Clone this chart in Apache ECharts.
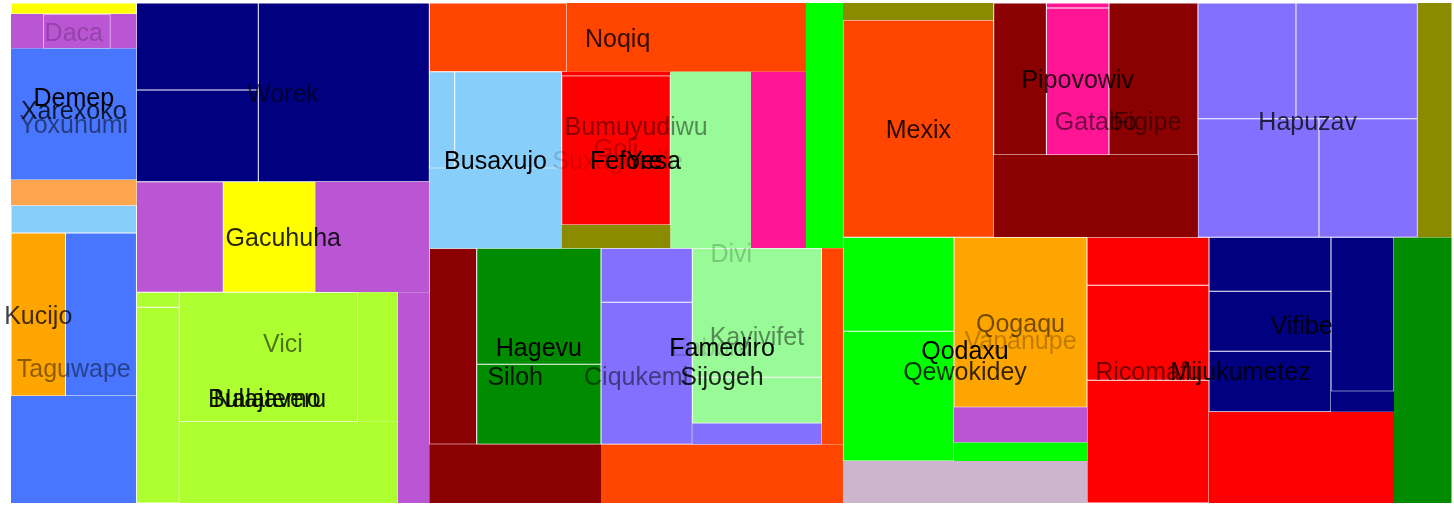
<!DOCTYPE html>
<html>
<head>
<meta charset="utf-8">
<script src="https://cdn.jsdelivr.net/npm/echarts/dist/echarts.min.js"></script>
<style>
  html, body { margin: 0; padding: 0; background: #ffffff; }
  #chart { width: 1454px; height: 507px; }
</style>
</head>
<body>
<div id="chart"></div>
<script>
// ---------------- DATA ----------------
// Hierarchy: which nodes each group contains (in drawing order)
const childIds = {
  divi: ['c1', 'x'],
  c1: ['c1y', 'a1'], a1: ['yox', 'tag'], yox: ['xar', 'ylblue'], xar: ['demep', 'xsandy'],
  demep: ['dl', 'dm', 'dr', 'dblue'], tag: ['kuc', 'tblue', 'trest'],
  x: ['c2', 'y'], c2: ['worek', 'vici'], worek: ['w1', 'w2', 'w3'],
  vici: ['gl', 'gy', 'gr', 'lg'], lg: ['bula', 'lgrest'], bula: ['nala'],
  nala: ['ntop', 'nbot', 'nin'], nin: ['nm', 'nr1'], nm: ['nbox', 'nr2'],
  y: ['bum', 'ciq', 'r'], bum: ['noqiq', 'suxa', 'bumg'], noqiq: ['ql', 'qr'],
  suxa: ['busa', 'sstrip', 'sro', 'spg', 'spink'], busa: ['b1', 'b2', 'brest'], sro: ['goli', 'solive'],
  ciq: ['siloh', 'sijo'], siloh: ['sidr', 'hag', 'sirest'], hag: ['h1', 'h2'],
  sijo: ['fam', 'sjrest'], fam: ['ea', 'frest'], ea: ['e1', 'e2', 'er'], er: ['kay', 'estrip'], kay: ['k1', 'k2'],
  r: ['fig', 'r2'], fig: ['folive', 'mexix', 'f2'], f2: ['gat', 'f3'],
  gat: ['gal', 'pipo', 'gar', 'garest'], pipo: ['ptop', 'pmain'], f3: ['hap', 'f3olive'],
  hap: ['hp1', 'hp2', 'hp3', 'hp4'],
  r2: ['qew', 'r2b'], qew: ['qod', 'qewrest'], qod: ['qd1', 'qd2', 'qdr'], qdr: ['vap', 'qdstrip'],
  vap: ['qog', 'varest'], r2b: ['miju', 'r2g'], miju: ['m1', 'm2', 'm3', 'mr'], mr: ['vif', 'mrest'],
  vif: ['v1', 'v2', 'v3', 'vr'], vr: ['vr1', 'vr2']
};

// Leaf values
const leafValues = {
  c1y: 13.8, dl: 11.1, dm: 23.1, dr: 9.0, dblue: 164.4, xsandy: 32.4, ylblue: 34.8,
  kuc: 88.8, tblue: 115.7, trest: 134.3,
  w1: 106.0, w2: 111.7, w3: 305.6, gl: 96.0, gy: 101.8, gr: 126.1,
  ntop: 6.4, nbot: 83.8, nbox: 230.9, nr2: 51.8, nr1: 177.6, lgrest: 66.6,
  ql: 94.4, qr: 164.4, b1: 24.5, b2: 103.4, brest: 105.9, sstrip: 4.3, goli: 162.1, solive: 25.3,
  spg: 142.5, spink: 97.1, bumg: 90.8,
  sidr: 92.9, h1: 144.2, h2: 99.4, sirest: 100.8, e1: 49.3, e2: 129.6, k1: 166.7, k2: 59.4,
  estrip: 27.1, frest: 42.1, sjrest: 142.1,
  folive: 25.6, mexix: 327.5, gal: 80.1, ptop: 3.1, pmain: 92.0, gar: 135.3, garest: 168.1,
  hp1: 113.4, hp2: 140.5, hp3: 143.5, hp4: 116.7, f3olive: 79.9,
  qd1: 104.3, qd2: 144.0, qog: 226.1, varest: 46.6, qdstrip: 24.9, qewrest: 102.5,
  m1: 58.6, m2: 115.9, m3: 149.7, v1: 65.9, v2: 73.2, v3: 73.7, vr1: 97.0, vr2: 12.9,
  mrest: 168.9, r2g: 152.8
};

// Node names shown as labels
const nodeLabels = {
  divi: 'Divi', yox: 'Yoxuhumi', xar: 'Xarexoko', demep: 'Demep', dm: 'Daca',
  tag: 'Taguwape', kuc: 'Kucijo', worek: 'Worek', vici: 'Vici', gy: 'Gacuhuha',
  bula: 'Bulajaveru', nala: 'Nalatemo', bum: 'Bumuyudiwu', noqiq: 'Noqiq',
  suxa: 'Suxagomile', busa: 'Busaxujo', sro: 'Fefore', goli: 'Goli', spg: 'Yesa',
  ciq: 'Ciqukemi', siloh: 'Siloh', hag: 'Hagevu', sijo: 'Sijogeh', fam: 'Famediro',
  ea: 'Eaboru', kay: 'Kayivifet', fig: 'Figipe', mexix: 'Mexix', gat: 'Gatabo',
  pipo: 'Pipovowiv', hap: 'Hapuzav', qew: 'Qewokidey', qod: 'Qodaxu', vap: 'Vapanupe',
  qog: 'Qogaqu', miju: 'Mijukumetez', m2: 'Ricomafu', vif: 'Vifibe'
};

// ---------------- STYLE ----------------
const leafColors = {
  c1y: '#FFFF00', dl: '#BA55D3', dm: '#BA55D3', dr: '#BA55D3', dblue: '#4876FF', xsandy: '#FFA54F',
  ylblue: '#87CEFA', kuc: '#FFA500', tblue: '#4876FF', trest: '#4876FF',
  w1: '#000080', w2: '#000080', w3: '#000080', gl: '#BA55D3', gy: '#FFFF00', gr: '#BA55D3',
  ntop: '#ADFF2F', nbot: '#ADFF2F', nbox: '#ADFF2F', nr2: '#ADFF2F', nr1: '#ADFF2F', lgrest: '#BA55D3',
  ql: '#FF4500', qr: '#FF4500', b1: '#87CEFA', b2: '#87CEFA', brest: '#87CEFA', sstrip: '#FF0000',
  goli: '#FF0000', solive: '#8B8B00', spg: '#98FB98', spink: '#FF1493', bumg: '#00FF00',
  sidr: '#8B0000', h1: '#008B00', h2: '#008B00', sirest: '#8B0000', e1: '#8470FF', e2: '#8470FF',
  k1: '#98FB98', k2: '#98FB98', estrip: '#8470FF', frest: '#FF4500', sjrest: '#FF4500',
  folive: '#8B8B00', mexix: '#FF4500', gal: '#8B0000', ptop: '#FF1493', pmain: '#FF1493',
  gar: '#8B0000', garest: '#8B0000', hp1: '#8470FF', hp2: '#8470FF', hp3: '#8470FF', hp4: '#8470FF',
  f3olive: '#8B8B00', qd1: '#00FF00', qd2: '#00FF00', qog: '#FFA500', varest: '#BA55D3',
  qdstrip: '#00FF00', qewrest: '#CDB5CD', m1: '#FF0000', m2: '#FF0000', m3: '#FF0000',
  v1: '#000080', v2: '#000080', v3: '#000080', vr1: '#000080', vr2: '#000080',
  mrest: '#FF0000', r2g: '#008B00'
};
const framedLeaves = ['c1y', 'dm', 'ylblue', 'kuc', 'tblue', 'w1', 'w2', 'w3', 'gl', 'gy', 'ntop', 'nbot',
  'nbox', 'ql', 'b1', 'b2', 'goli', 'sidr', 'h1', 'h2', 'e1', 'e2', 'k1', 'k2', 'mexix', 'gal', 'ptop',
  'pmain', 'gar', 'hp1', 'hp2', 'hp3', 'hp4', 'qd1', 'qd2', 'qog', 'm1', 'm2', 'm3', 'v1', 'v2', 'v3', 'vr1'];
const labelAlpha = {
  Divi: 0.2, Yoxuhumi: 0.5, Xarexoko: 0.8, Demep: 1, Daca: 0.2, Taguwape: 0.45, Kucijo: 0.75,
  Worek: 0.6, Vici: 0.55, Gacuhuha: 0.85, Bulajaveru: 0.9, Nalatemo: 0.9, Bumuyudiwu: 0.45,
  Noqiq: 0.8, Suxagomile: 0.15, Busaxujo: 1, Fefore: 1, Goli: 0.25, Yesa: 1, Ciqukemi: 0.5,
  Siloh: 0.85, Hagevu: 1, Sijogeh: 0.85, Famediro: 1, Eaboru: 0.15, Kayivifet: 0.45,
  Figipe: 0.45, Mexix: 0.85, Gatabo: 0.55, Pipovowiv: 0.85, Hapuzav: 0.75, Qewokidey: 0.8,
  Qodaxu: 1, Vapanupe: 0.25, Qogaqu: 0.55, Mijukumetez: 0.85, Ricomafu: 0.55, Vifibe: 0.9
};
const labelShift = { Daca: [-3, 0], Gacuhuha: [14, 0], Fefore: [10, -2], Yesa: [-57, 0], Ricomafu: [0, 38], Goli: [0, -3] };
const labelDrop = 2.5;
const labelFont = '"Liberation Sans", Arial, Helvetica, sans-serif';
const CLEAR = 'rgba(0,0,0,0)';

// ---------------- BUILD ----------------
function total(id) {
  return childIds[id] ? childIds[id].reduce((s, c) => s + total(c), 0) : leafValues[id];
}
const rank = {};
(function walk(id, r) {
  const rr = nodeLabels[id] ? r + 1 : r;
  if (nodeLabels[id]) rank[id] = rr;
  (childIds[id] || []).forEach(c => walk(c, rr));
})('divi', 0);
const maxRank = Math.max.apply(null, Object.values(rank));

function colorNode(id) {
  const node = { name: nodeLabels[id] || '', value: total(id) };
  if (childIds[id]) node.children = childIds[id].map(colorNode);
  else node.itemStyle = { color: leafColors[id], borderColor: '#ffffff', borderWidth: framedLeaves.indexOf(id) >= 0 ? 0.5 : 0 };
  return node;
}
function labelNode(id, level) {
  const node = {
    name: nodeLabels[id] || '', value: total(id),
    itemStyle: { color: CLEAR, borderColor: CLEAR, borderWidth: 0, gapWidth: 0 }
  };
  if (rank[id] === level) {
    const t = nodeLabels[id];
    const s = labelShift[t] || [0, 0];
    node.label = { show: true, color: 'rgba(0,0,0,' + labelAlpha[t] + ')', offset: [s[0], s[1] + labelDrop] };
    return node;
  }
  if (childIds[id]) node.children = childIds[id].map(c => labelNode(c, level));
  return node;
}

const base = {
  type: 'treemap', left: 11, top: 3, width: 1440.5, height: 500,
  sort: false, roam: false, nodeClick: false, breadcrumb: { show: false },
  squareRatio: 0.5 * (1 + Math.sqrt(5)), upperLabel: { show: false },
  animation: false, emphasis: { disabled: true }
};
const series = [Object.assign({}, base, {
  z: 2,
  data: [colorNode('divi')],
  itemStyle: { borderWidth: 0, gapWidth: 0, borderColor: '#ffffff' },
  label: { show: false }
})];
for (let lv = 1; lv <= maxRank; lv++) {
  series.push(Object.assign({}, base, {
    z: 10 + lv,
    silent: true,
    color: [CLEAR],
    levels: [{ color: [CLEAR], itemStyle: { color: CLEAR, borderColor: CLEAR } }],
    data: [labelNode('divi', lv)],
    itemStyle: { color: CLEAR, borderColor: CLEAR, borderWidth: 0, gapWidth: 0 },
    label: { show: false, position: 'inside', fontSize: 25, fontFamily: labelFont, padding: 0, overflow: 'none' }
  }));
}

const chart = echarts.init(document.getElementById('chart'), null, { renderer: 'canvas' });
chart.setOption({ animation: false, backgroundColor: '#ffffff', tooltip: { show: false }, series: series });
</script>
</body>
</html>
